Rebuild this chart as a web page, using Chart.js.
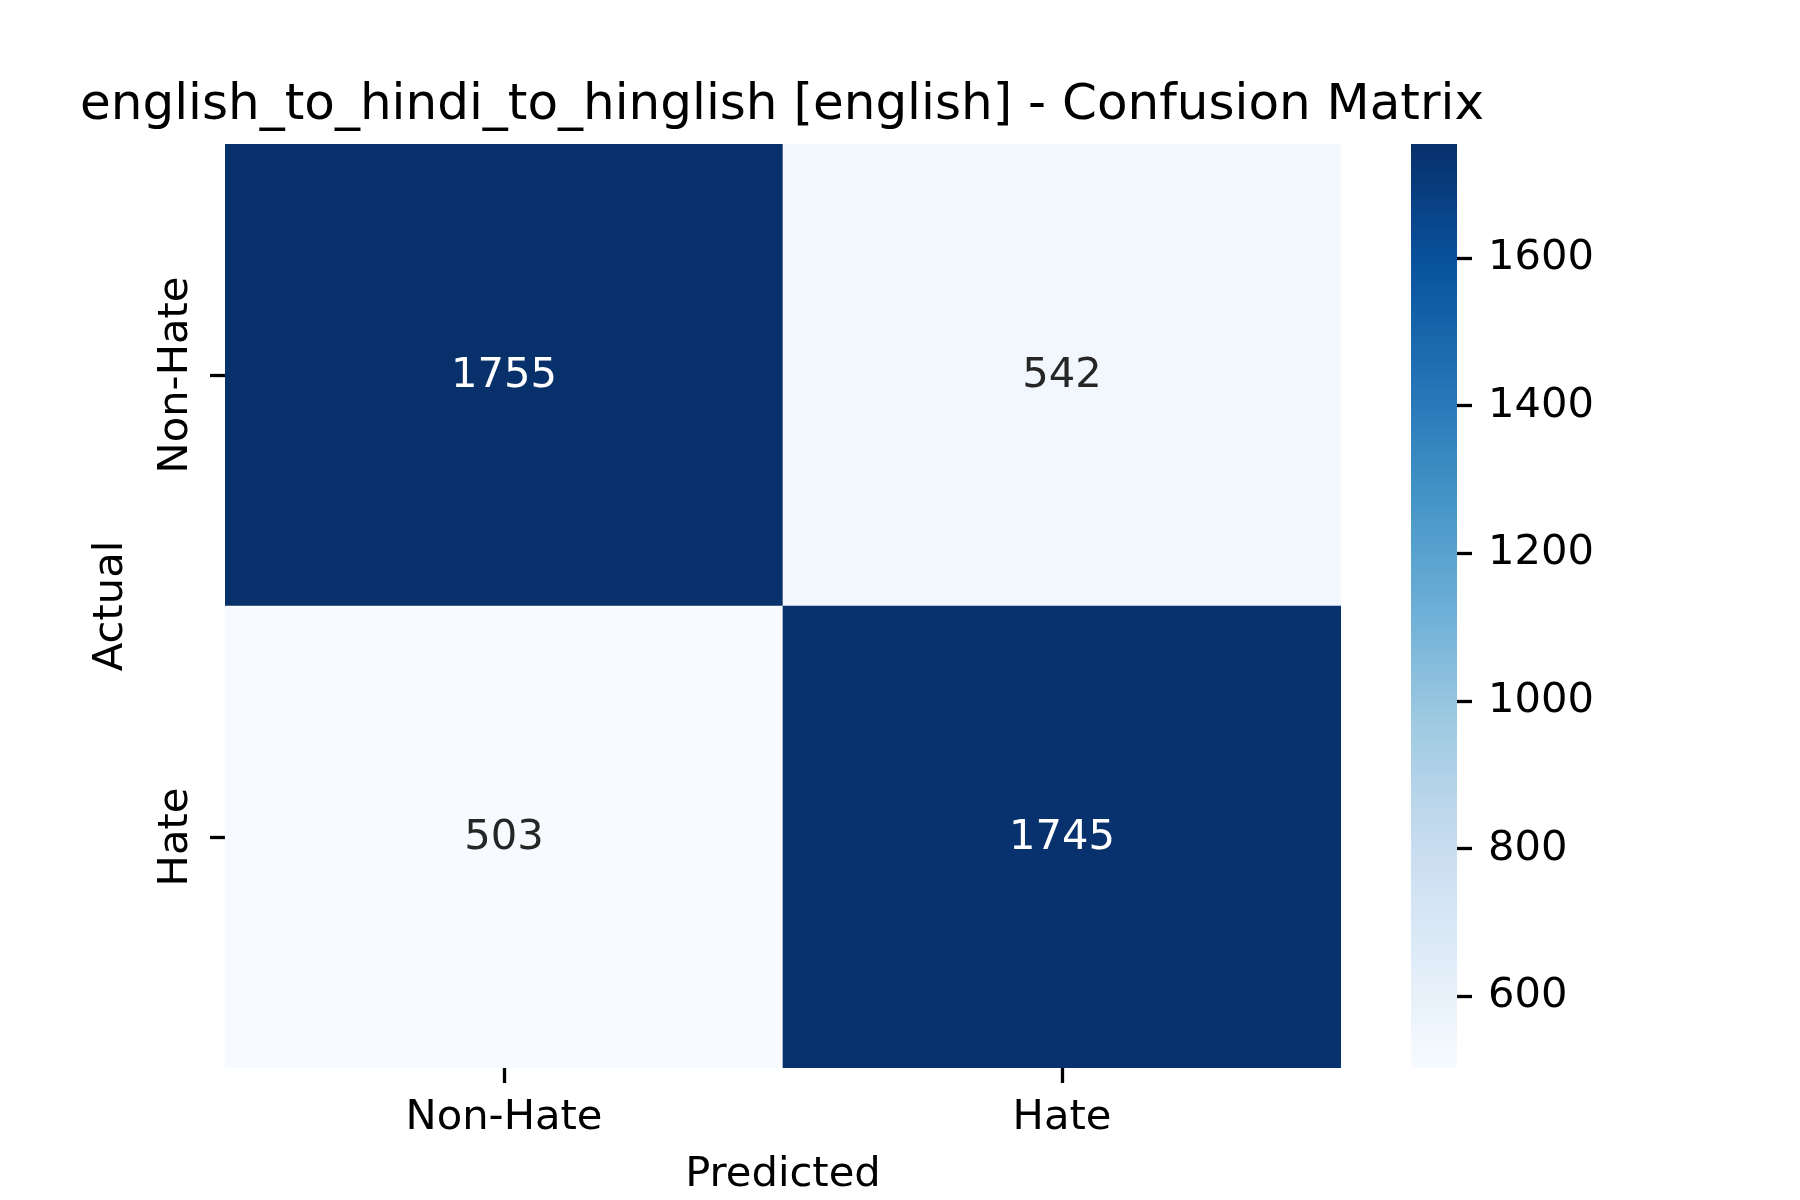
<!DOCTYPE html>
<html lang="en">
<head>
    <meta charset="UTF-8">
    <title>Confusion Matrix</title>
    <script src="https://cdn.jsdelivr.net/npm/chart.js"></script>
    <style>
        html, body { margin: 0; padding: 0; background: #ffffff; }
        #wrap { position: relative; width: 1800px; height: 1200px; }
        canvas { position: absolute; top: 0; }
        #matrix { left: 0; }
        #cbar { left: 1380px; }
    </style>
</head>
<body>
    <div id="wrap">
        <canvas id="matrix" width="1800" height="1200"></canvas>
        <canvas id="cbar" width="420" height="1200"></canvas>
    </div>

    <script>
        // Chart data
        const titleText = 'english_to_hindi_to_hinglish [english] - Confusion Matrix';
        const classLabels = ['Non-Hate', 'Hate'];
        // rows = actual class, columns = predicted class
        const rowNonHate = [1755, 542];
        const rowHate = [503, 1745];
        const cbarTicks = [600, 800, 1000, 1200, 1400, 1600];

        const FONT = 'DejaVu Sans';
        const tickFont = { family: FONT, size: 41.67, weight: 'normal', lineHeight: 1.2 };

        // matplotlib "Blues" colormap anchors
        const blues = ['#f7fbff', '#deebf7', '#c6dbef', '#9ecae1', '#6baed6',
                       '#4292c6', '#2171b5', '#08519c', '#08306b'];

        function hexToRgb(h) {
            return [1, 3, 5].map(i => parseInt(h.substr(i, 2), 16));
        }

        function bluesAt(t) {
            t = Math.max(0, Math.min(1, t));
            const s = t * (blues.length - 1);
            const i = Math.min(Math.floor(s), blues.length - 2);
            const f = s - i;
            const a = hexToRgb(blues[i]);
            const b = hexToRgb(blues[i + 1]);
            return 'rgb(' + a.map((v, k) => Math.round(v + (b[k] - v) * f)).join(',') + ')';
        }

        const allValues = rowNonHate.concat(rowHate);
        const vmin = Math.min(...allValues);
        const vmax = Math.max(...allValues);
        const norm = v => (v - vmin) / (vmax - vmin);

        // writes the count in the middle of every cell
        const cellLabels = {
            id: 'cellLabels',
            afterDatasetsDraw(chart) {
                const ctx = chart.ctx;
                ctx.save();
                ctx.font = '41.67px "DejaVu Sans"';
                ctx.textAlign = 'center';
                ctx.textBaseline = 'middle';
                chart.data.datasets.forEach((ds, di) => {
                    chart.getDatasetMeta(di).data.forEach((bar, i) => {
                        const v = ds.counts[i];
                        ctx.fillStyle = norm(v) > 0.5 ? '#ffffff' : '#262626';
                        ctx.fillText(String(v), bar.x, (bar.y + bar.base) / 2 + 1);
                    });
                });
                ctx.restore();
            }
        };

        const tickMarks = {
            drawOnChartArea: false,
            drawTicks: true,
            tickLength: 15,
            tickWidth: 3.3,
            tickColor: '#000000'
        };

        // heatmap: stacked bars, one unit tall per row (first dataset = bottom row)
        new Chart(document.getElementById('matrix'), {
            type: 'bar',
            data: {
                labels: classLabels,
                datasets: [
                    {
                        label: classLabels[1],
                        counts: rowHate,
                        data: rowHate.map(() => 1),
                        backgroundColor: rowHate.map(v => bluesAt(norm(v)))
                    },
                    {
                        label: classLabels[0],
                        counts: rowNonHate,
                        data: rowNonHate.map(() => 1),
                        backgroundColor: rowNonHate.map(v => bluesAt(norm(v)))
                    }
                ]
            },
            options: {
                responsive: false,
                animation: false,
                devicePixelRatio: 1,
                // right padding keeps the title centred over the cells
                layout: { padding: { left: 0, top: 0, right: 236, bottom: 0 } },
                datasets: { bar: { barPercentage: 1, categoryPercentage: 1, borderWidth: 0 } },
                plugins: {
                    legend: { display: false },
                    tooltip: { enabled: false },
                    title: {
                        display: true,
                        text: titleText,
                        fullSize: true,
                        color: '#000000',
                        font: { family: FONT, size: 50, weight: 'normal', lineHeight: 1.2 },
                        padding: { top: 76, bottom: 8 }
                    }
                },
                scales: {
                    x: {
                        stacked: true,
                        offset: true,
                        grid: Object.assign({ offset: false }, tickMarks),
                        border: { display: false },
                        ticks: { color: '#000000', font: tickFont, padding: 10, maxRotation: 0 },
                        title: {
                            display: true,
                            text: 'Predicted',
                            color: '#000000',
                            font: tickFont,
                            padding: { top: 0, bottom: 0 }
                        },
                        afterFit(scale) { scale.height = 132; }
                    },
                    y: {
                        stacked: true,
                        min: 0,
                        max: classLabels.length,
                        afterBuildTicks(scale) {
                            scale.ticks = classLabels.map((_, i) => ({ value: i + 0.5 }));
                        },
                        grid: tickMarks,
                        border: { display: false },
                        ticks: {
                            color: '#000000',
                            font: tickFont,
                            minRotation: 90,
                            maxRotation: 90,
                            crossAlign: 'center',
                            padding: -65,
                            callback: v => classLabels[Math.round(classLabels.length - 0.5 - v)]
                        },
                        title: {
                            display: true,
                            text: 'Actual',
                            color: '#000000',
                            font: tickFont,
                            padding: { top: 86, bottom: 0 }
                        },
                        afterFit(scale) { scale.width = 225; }
                    },
                    // empty spacer on the right, leaves room for the colour bar
                    spacer: {
                        type: 'linear',
                        position: 'right',
                        grid: { display: false },
                        border: { display: false },
                        ticks: { display: false },
                        afterFit(scale) { scale.width = 223; }
                    }
                }
            },
            plugins: [cellLabels]
        });

        // colour bar: one floating bar from vmin to vmax filled with the colormap
        new Chart(document.getElementById('cbar'), {
            type: 'bar',
            data: {
                labels: ['scale'],
                datasets: [{
                    data: [[vmin, vmax]],
                    barPercentage: 1,
                    categoryPercentage: 1,
                    borderWidth: 0,
                    backgroundColor(c) {
                        const area = c.chart.chartArea;
                        if (!area) return blues[0];
                        const g = c.chart.ctx.createLinearGradient(0, area.bottom, 0, area.top);
                        blues.forEach((col, i) => g.addColorStop(i / (blues.length - 1), col));
                        return g;
                    }
                }]
            },
            options: {
                responsive: false,
                animation: false,
                devicePixelRatio: 1,
                layout: { padding: { left: 31, top: 144, right: 0, bottom: 132 } },
                plugins: { legend: { display: false }, tooltip: { enabled: false } },
                scales: {
                    x: { display: false },
                    y: {
                        position: 'right',
                        min: vmin,
                        max: vmax,
                        afterBuildTicks(scale) {
                            scale.ticks = cbarTicks.map(v => ({ value: v }));
                        },
                        grid: tickMarks,
                        border: { display: false },
                        ticks: { color: '#000000', font: tickFont, padding: 16, callback: v => String(v) },
                        afterFit(scale) { scale.width = 343; }
                    }
                }
            }
        });
    </script>
</body>
</html>
